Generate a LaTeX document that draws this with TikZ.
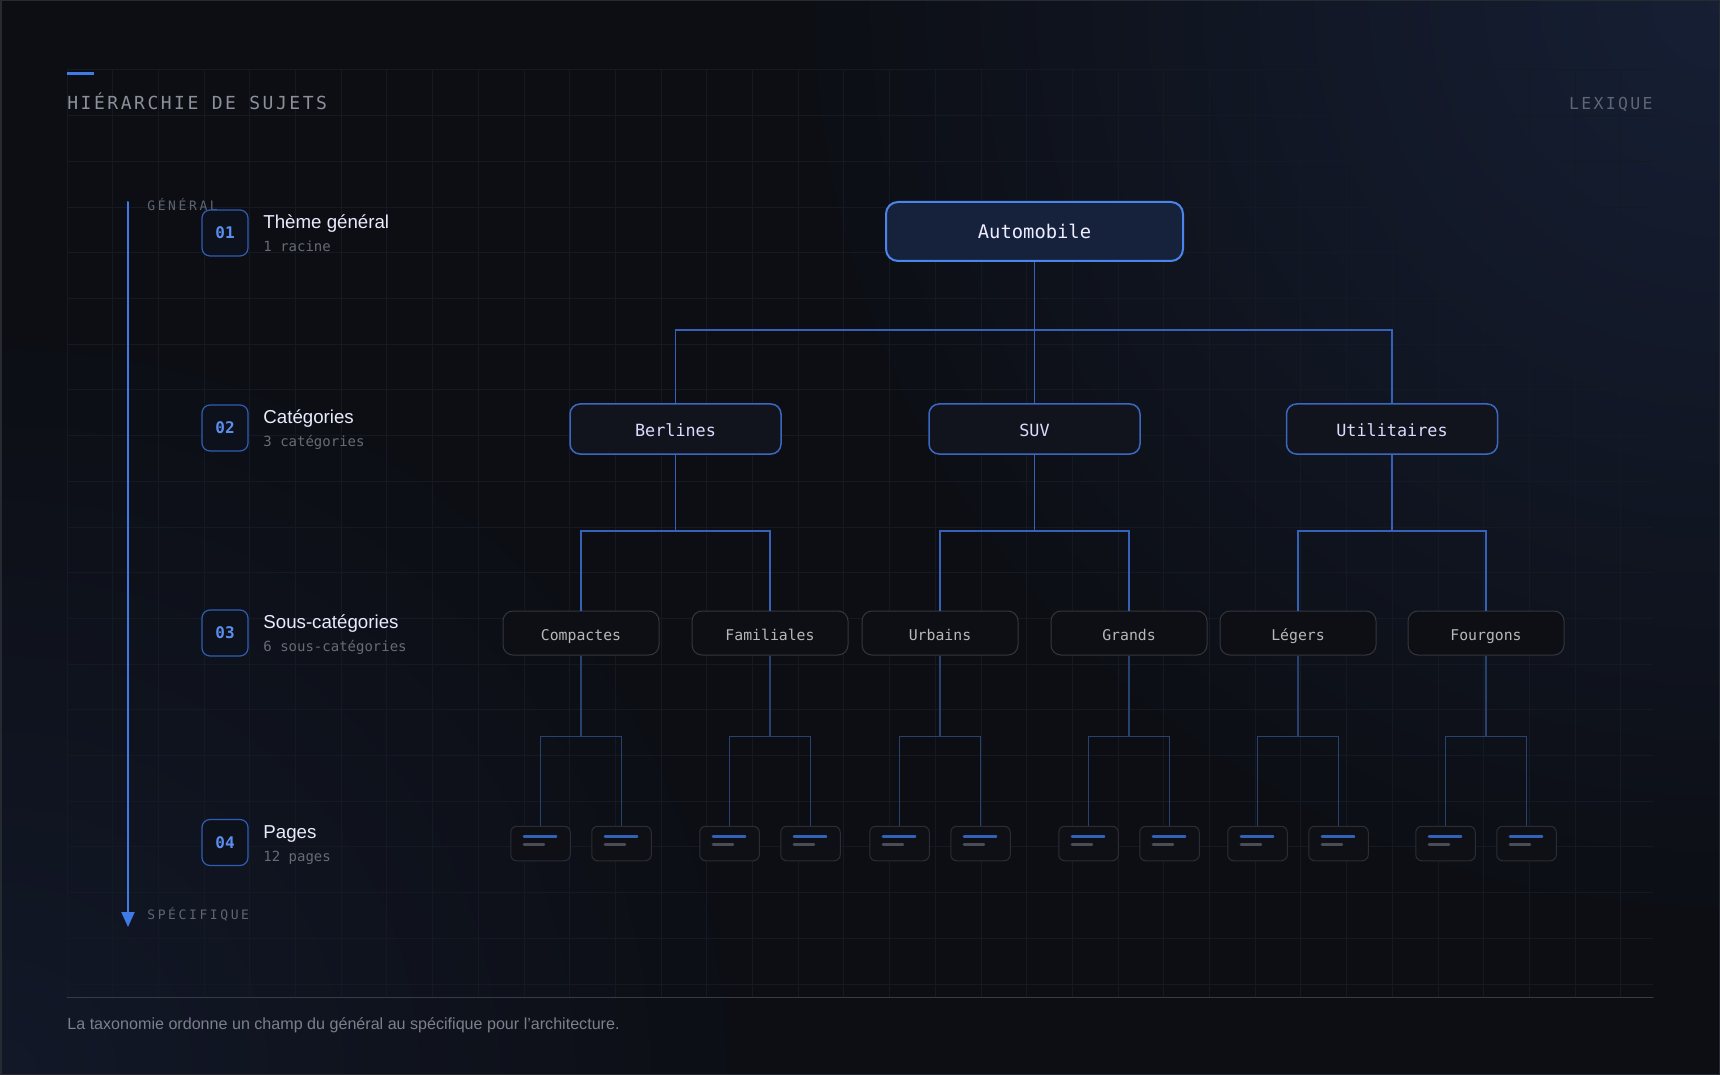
\documentclass[tikz,border=0pt]{standalone}
\usepackage{fontspec}
\setmainfont{Liberation Sans}
\newfontfamily\mono{DejaVu Sans Mono}
\newfontfamily\trackmono[LetterSpace=14]{DejaVu Sans Mono}
\newfontfamily\widemono[LetterSpace=20]{DejaVu Sans Mono}
\usepackage{tikz}
\usetikzlibrary{arrows.meta,fadings}
\usepackage{xcolor}
\definecolor{bgbase}{HTML}{0C0E13}
\definecolor{glowtr}{HTML}{1A2540}
\definecolor{glowbl}{HTML}{151C30}
\definecolor{framec}{HTML}{272A31}
\definecolor{gridc}{HTML}{141923}
\definecolor{accentc}{HTML}{3F7BE6}
\definecolor{rootfill}{HTML}{16223B}
\definecolor{rootline}{HTML}{4B84EA}
\definecolor{catfill}{HTML}{11141C}
\definecolor{catline}{HTML}{3B67C2}
\definecolor{subfill}{HTML}{0D0F14}
\definecolor{subline}{HTML}{33363E}
\definecolor{pagefill}{HTML}{0E1016}
\definecolor{pageline}{HTML}{2A2D35}
\definecolor{linkc}{HTML}{3562B8}
\definecolor{sublinkc}{HTML}{284270}
\definecolor{badgefill}{HTML}{0D111B}
\definecolor{badgeline}{HTML}{2F5DB5}
\definecolor{badgetext}{HTML}{5A8FF0}
\definecolor{headc}{HTML}{8B909B}
\definecolor{dimc}{HTML}{5F6572}
\definecolor{lvsubc}{HTML}{666B76}
\definecolor{footc}{HTML}{7B808B}
\definecolor{pagegray}{HTML}{4A4D55}
\tikzfading[name=glowfade,inner color=transparent!25,outer color=transparent!100]

\begin{document}
\begin{tikzpicture}[x=0.5pt,y=-0.5pt,>={Triangle[length=7.5pt,width=6.5pt]},line cap=round,
  root/.style={draw=rootline,fill=rootfill,line width=1pt,rounded corners=6pt,minimum width=148.5pt,minimum height=29.5pt,
    inner sep=0pt,text height=0.73em,text depth=0pt,text=white!93!blue,font=\mono\fontsize{9.4pt}{11pt}\selectfont},
  cat/.style={draw=catline,fill=catfill,line width=0.75pt,rounded corners=5pt,minimum width=105.5pt,minimum height=25pt,
    inner sep=0pt,text height=0.73em,text depth=0pt,text=white!86!blue,font=\mono\fontsize{8.4pt}{10pt}\selectfont},
  sub/.style={draw=subline,fill=subfill,line width=0.5pt,rounded corners=5pt,minimum width=78pt,minimum height=22pt,
    inner sep=0pt,text height=0.73em,text depth=0pt,text=white!72!black,font=\mono\fontsize{7.4pt}{9pt}\selectfont},
  page/.style={draw=pageline,fill=pagefill,line width=0.5pt,rounded corners=3pt,minimum width=29.75pt,minimum height=17.25pt,inner sep=0pt},
  badge/.style={draw=badgeline,fill=badgefill,line width=0.6pt,rounded corners=4pt,minimum size=23pt,inner sep=0pt,
    text=badgetext,font=\mono\bfseries\fontsize{8pt}{10pt}\selectfont},
  lvtitle/.style={anchor=base west,inner sep=0pt,text=white!92!blue,font=\fontsize{9.35pt}{11pt}\selectfont},
  lvsub/.style={anchor=base west,inner sep=0pt,text=lvsubc,font=\mono\fontsize{7pt}{9pt}\selectfont},
  tag/.style={anchor=base west,inner sep=0pt,text=dimc,font=\widemono\fontsize{6.5pt}{8pt}\selectfont},
  link/.style={draw=linkc,line width=0.75pt,line cap=butt},
  sublink/.style={draw=sublinkc,line width=0.6pt,line cap=butt}]
\useasboundingbox (0,0) rectangle (1720,1075);
\fill[bgbase] (0,0) rectangle (1720,1075);
\fill[glowtr,path fading=glowfade] (1720,0) circle (480pt);
\fill[glowbl,path fading=glowfade] (0,1075) circle (400pt);
\begin{scope}
\clip (67,70) rectangle (1653,997);
\foreach \i in {0,...,34} \draw[gridc,line width=0.5pt] ({67+45.7*\i},70) -- ({67+45.7*\i},997);
\foreach \j in {0,...,20} \draw[gridc,line width=0.5pt] (67,{70+45.7*\j}) -- (1653,{70+45.7*\j});
\end{scope}
\draw[gridc!85!white,line width=0.5pt] (67,997) -- (1653,997);
\draw[framec,line width=1pt] (0.5,0.5) rectangle (1719.5,1074.5);

\draw[accentc,line width=1.5pt,line cap=butt] (67,73.5) -- (94,73.5);
\node[anchor=base west,inner sep=0pt,text=headc,font=\trackmono\fontsize{9pt}{11pt}\selectfont] (title) at (67,109.6) {HIÉRARCHIE DE SUJETS};
\node[anchor=base east,inner sep=0pt,text=dimc,font=\trackmono\fontsize{8.25pt}{10pt}\selectfont] (lexique) at (1653,110) {LEXIQUE};

\coordinate (axtop) at (128,202);
\coordinate (axend) at (128,927);
\draw[accentc,line width=1pt,->] (axtop) -- (axend);
\node[tag] (general) at (147,210.7) {GÉNÉRAL};
\node[tag] (specifique) at (147,919.7) {SPÉCIFIQUE};

\node[badge] (lv1) at (225,233) {01};
\node[lvtitle] (lv1t) at (263,228.5) {Thème général};
\node[lvsub] (lv1s) at (263,251.5) {1 racine};
\node[badge] (lv2) at (225,428) {02};
\node[lvtitle] (lv2t) at (263,423.5) {Catégories};
\node[lvsub] (lv2s) at (263,446.5) {3 catégories};
\node[badge] (lv3) at (225,633) {03};
\node[lvtitle] (lv3t) at (263,628.5) {Sous-catégories};
\node[lvsub] (lv3s) at (263,651.5) {6 sous-catégories};
\node[badge] (lv4) at (225,842.5) {04};
\node[lvtitle] (lv4t) at (263,838) {Pages};
\node[lvsub] (lv4s) at (263,861) {12 pages};

\node[root] (auto) at (1034.5,231.5) {Automobile};
\node[cat] (ber) at (675.5,429) {Berlines};
\node[cat] (suv) at (1034.5,429) {SUV};
\node[cat] (uti) at (1392,429) {Utilitaires};
\node[sub] (comp) at (581,633) {Compactes};
\node[sub] (fam) at (770,633) {Familiales};
\node[sub] (urb) at (940,633) {Urbains};
\node[sub] (gra) at (1129,633) {Grands};
\node[sub] (leg) at (1298,633) {Légers};
\node[sub] (fou) at (1486,633) {Fourgons};

\draw[link] (auto.south) -- ++(0,68) -| (ber.north);
\draw[link] (auto.south) -- ++(0,68) -| (suv.north);
\draw[link] (auto.south) -- ++(0,68) -| (uti.north);
\draw[link] (ber.south) -- ++(0,76) -| (comp.north);
\draw[link] (ber.south) -- ++(0,76) -| (fam.north);
\draw[link] (suv.south) -- ++(0,76) -| (urb.north);
\draw[link] (suv.south) -- ++(0,76) -| (gra.north);
\draw[link] (uti.south) -- ++(0,76) -| (leg.north);
\draw[link] (uti.south) -- ++(0,76) -| (fou.north);

\foreach \s/\c in {comp/581,fam/770,urb/940,gra/1129,leg/1298,fou/1486}{
  \foreach \side/\dx in {l/-40.5,r/40.5}{
    \node[page] (\s-\side) at ({\c+\dx},843.5) {};
    \draw[sublink] (\s.south) -- ++(0,81) -| (\s-\side.north);
    \draw[accentc!80!black,line width=1.25pt] ([xshift=6.85pt,yshift=-5.25pt]\s-\side.north west) -- ++(16.1pt,0);
    \draw[pagegray,line width=1.25pt] ([xshift=6.85pt,yshift=-9.4pt]\s-\side.north west) -- ++(10pt,0);
  }
}

\node[anchor=base west,inner sep=0pt,text=footc,font=\fontsize{8.05pt}{10pt}\selectfont] (footer) at (67,1029) {La taxonomie ordonne un champ du général au spécifique pour l’architecture.};
\end{tikzpicture}
\end{document}
